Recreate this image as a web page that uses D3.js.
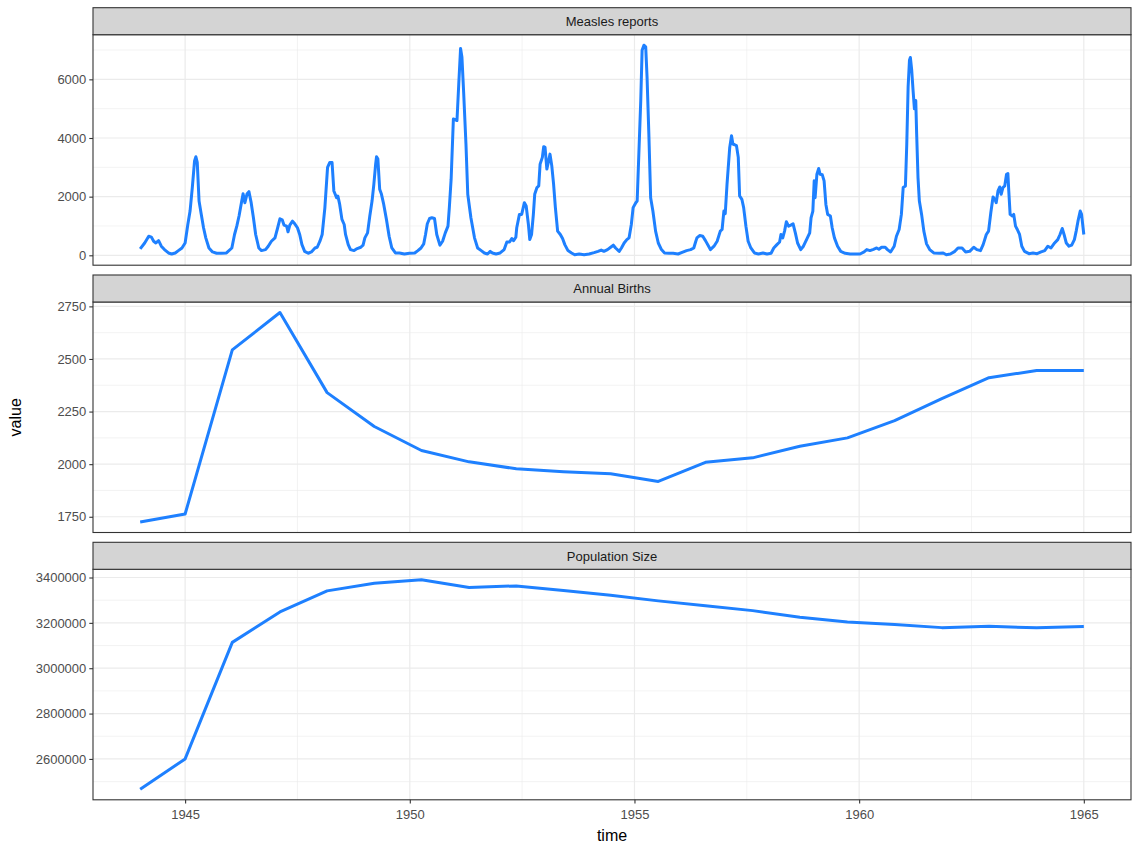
<!DOCTYPE html>
<html>
<head>
<meta charset="utf-8">
<script src="https://cdn.jsdelivr.net/npm/d3@7"></script>
<style>
  body { margin: 0; background: #fff; }
  svg { display: block; font-family: "Liberation Sans", Arial, Helvetica, sans-serif; }
</style>
</head>
<body>
<div id="chart"></div>
<script>
// values

// annual covariates (births, population) share these time points
const annualTime = [1944.00, 1945.00, 1946.05, 1947.11, 1948.16, 1949.21, 1950.26, 1951.32, 1952.37, 1953.42,
  1954.47, 1955.53, 1956.58, 1957.63, 1958.68, 1959.74, 1960.79, 1961.84, 1962.89, 1963.95, 1965.00]
const annualBirths = [1725, 1763, 2543, 2721, 2340, 2179, 2065, 2011, 1978, 1964,
  1954, 1918, 2009, 2030, 2085, 2125, 2207, 2312, 2411, 2445, 2445]
const populationSize = [2466000, 2600000, 3114000, 3248000, 3341000, 3375000, 3390000, 3356000, 3363000, 3343000,
  3322000, 3297000, 3275000, 3254000, 3225000, 3204000, 3193000, 3179000, 3185000, 3178000, 3184000]

// measles case reports [time, reports]
const measlesReports = [
  [1944.00,220],[1944.10,420],[1944.19,650],[1944.25,620],[1944.30,480],[1944.35,420],[1944.41,500],[1944.47,310],[1944.54,195],[1944.63,80],[1944.70,45],[1944.78,80],[1944.85,160],[1944.93,250],
  [1945.00,420],[1945.06,1050],[1945.11,1510],[1945.16,2310],[1945.21,3220],[1945.24,3360],[1945.27,3170],[1945.31,1850],[1945.36,1395],[1945.41,940],[1945.46,595],[1945.53,250],[1945.61,115],[1945.70,70],[1945.81,70],[1945.92,80],
  [1946.04,250],[1946.10,710],[1946.15,995],[1946.20,1340],[1946.26,1850],[1946.29,2100],[1946.33,1795],[1946.38,2100],[1946.42,2170],[1946.47,1795],[1946.52,1280],[1946.57,710],[1946.64,250],[1946.70,160],[1946.79,195],[1946.85,310],[1946.92,480],
  [1947.00,595],[1947.06,940],[1947.11,1245],[1947.16,1210],[1947.20,1030],[1947.26,995],[1947.29,800],[1947.33,1030],[1947.39,1165],[1947.44,1075],[1947.50,940],[1947.55,710],[1947.60,365],[1947.66,135],[1947.74,70],[1947.81,115],[1947.89,250],[1947.94,275],
  [1948.00,480],[1948.05,710],[1948.11,1620],[1948.17,2995],[1948.22,3165],[1948.27,3165],[1948.31,2195],[1948.34,2080],[1948.37,1965],[1948.40,2020],[1948.44,1735],[1948.49,1225],[1948.54,1050],[1948.57,710],[1948.63,365],[1948.68,195],[1948.76,160],[1948.83,230],[1948.91,275],[1948.96,345],
  [1949.00,595],[1949.06,765],[1949.11,1340],[1949.16,1850],[1949.20,2420],[1949.24,3110],[1949.26,3360],[1949.29,3280],[1949.33,2250],[1949.37,2080],[1949.42,1735],[1949.48,1225],[1949.54,650],[1949.60,250],[1949.68,80],[1949.77,80],[1949.88,45],[1949.99,70],
  [1950.11,80],[1950.18,160],[1950.25,250],[1950.31,390],[1950.35,710],[1950.39,1075],[1950.44,1255],[1950.49,1280],[1950.55,1255],[1950.60,710],[1950.67,345],[1950.73,480],[1950.79,765],[1950.85,995],[1950.88,1625],[1950.92,2595],[1950.97,4650],
  [1951.05,4595],[1951.09,5850],[1951.13,7050],[1951.16,6765],[1951.20,5510],[1951.25,3795],[1951.29,2080],[1951.36,1280],[1951.44,595],[1951.51,250],[1951.59,160],[1951.66,80],[1951.73,45],[1951.79,135],[1951.84,80],[1951.92,45],
  [1952.01,80],[1952.10,195],[1952.16,455],[1952.22,455],[1952.27,570],[1952.31,500],[1952.36,615],[1952.38,940],[1952.44,1395],[1952.49,1395],[1952.55,1795],[1952.59,1680],[1952.64,1050],[1952.67,535],[1952.71,710],[1952.75,1395],[1952.78,2080],[1952.83,2310],[1952.87,2365],[1952.90,3110],[1952.95,3340],[1952.98,3705],
  [1953.01,3680],[1953.05,2940],[1953.09,3225],[1953.12,3450],[1953.16,3050],[1953.20,2425],[1953.24,1625],[1953.29,825],[1953.35,710],[1953.40,570],[1953.45,365],[1953.52,160],[1953.60,80],[1953.67,20],[1953.77,45],[1953.88,20],[1953.99,45],
  [1954.10,90],[1954.19,135],[1954.26,180],[1954.32,135],[1954.40,195],[1954.47,275],[1954.53,345],[1954.58,250],[1954.66,135],[1954.71,250],[1954.77,420],[1954.83,535],[1954.88,595],[1954.93,1050],[1954.97,1625],
  [1955.03,1795],[1955.06,1850],[1955.10,3565],[1955.14,5280],[1955.17,6995],[1955.21,7165],[1955.25,7110],[1955.28,6080],[1955.32,4140],[1955.36,1965],[1955.41,1510],[1955.47,825],[1955.53,420],[1955.60,195],[1955.67,80],[1955.77,70],[1955.86,70],[1955.97,45],
  [1956.06,100],[1956.16,160],[1956.25,195],[1956.32,250],[1956.36,455],[1956.39,595],[1956.45,675],[1956.52,650],[1956.58,500],[1956.69,195],[1956.77,310],[1956.84,480],[1956.91,825],[1956.95,880],[1956.99,1510],
  [1957.02,1420],[1957.06,2425],[1957.12,3680],[1957.16,4080],[1957.19,3795],[1957.23,3770],[1957.27,3740],[1957.31,3340],[1957.34,2025],[1957.39,1910],[1957.43,1625],[1957.48,995],[1957.53,480],[1957.59,250],[1957.67,80],[1957.76,45],[1957.86,80],[1957.95,45],
  [1958.04,70],[1958.10,250],[1958.17,365],[1958.23,455],[1958.26,710],[1958.30,595],[1958.34,825],[1958.38,1145],[1958.43,995],[1958.48,1030],[1958.53,1075],[1958.58,765],[1958.63,420],[1958.70,195],[1958.76,310],[1958.84,570],[1958.90,765],[1958.93,1280],[1958.97,1510],
  [1959.00,2540],[1959.02,1965],[1959.06,2765],[1959.10,2960],[1959.13,2765],[1959.18,2745],[1959.22,2540],[1959.26,1735],[1959.30,1395],[1959.36,1340],[1959.40,940],[1959.45,595],[1959.52,310],[1959.59,135],[1959.69,70],[1959.80,45],[1959.91,45],
  [1960.02,45],[1960.11,115],[1960.17,195],[1960.24,160],[1960.32,205],[1960.39,250],[1960.44,205],[1960.50,275],[1960.58,275],[1960.63,195],[1960.70,115],[1960.78,310],[1960.83,650],[1960.89,880],[1960.94,1395],[1960.98,2310],
  [1961.03,2365],[1961.06,3795],[1961.09,5740],[1961.12,6650],[1961.14,6745],[1961.17,6310],[1961.20,5625],[1961.23,4995],[1961.26,5280],[1961.28,4140],[1961.31,2650],[1961.34,1850],[1961.39,1395],[1961.44,825],[1961.50,390],[1961.57,195],[1961.66,80],[1961.78,70],[1961.87,80],[1961.94,20],
  [1962.03,45],[1962.13,135],[1962.20,250],[1962.29,250],[1962.37,115],[1962.46,135],[1962.55,275],[1962.62,195],[1962.70,160],[1962.76,365],[1962.83,710],[1962.88,825],[1962.93,1450],[1962.98,1990],
  [1963.02,1910],[1963.05,1795],[1963.09,2195],[1963.13,2330],[1963.16,2080],[1963.20,2310],[1963.24,2365],[1963.28,2765],[1963.31,2790],[1963.33,2195],[1963.36,1395],[1963.41,1340],[1963.44,1395],[1963.48,995],[1963.52,880],[1963.57,710],[1963.62,310],[1963.68,135],[1963.78,55],[1963.87,80],[1963.96,55],
  [1964.05,115],[1964.13,160],[1964.20,310],[1964.27,250],[1964.35,420],[1964.42,535],[1964.47,710],[1964.52,915],[1964.56,710],[1964.61,420],[1964.67,310],[1964.73,345],[1964.79,535],[1964.83,825],[1964.87,1165],[1964.92,1510],[1964.95,1395],[1965.00,710]
]

const facetLabels = ["Measles reports", "Annual Births", "Population Size"]
const xTicks = [1945, 1950, 1955, 1960, 1965]
const measlesTicks = [0, 2000, 4000, 6000]
const birthTicks = [1750, 2000, 2250, 2500, 2750]
const popTicks = [2600000, 2800000, 3000000, 3200000, 3400000]

const facets = [
  {label: facetLabels[0], data: measlesReports.map(d => ({time: d[0], value: d[1]})), ticks: measlesTicks},
  {label: facetLabels[1], data: annualTime.map((t, i) => ({time: t, value: annualBirths[i]})), ticks: birthTicks},
  {label: facetLabels[2], data: annualTime.map((t, i) => ({time: t, value: populationSize[i]})), ticks: popTicks}
]

const width = 1132, height = 845
const margin = ({top: 7.7, right: 1, left: 93})
const stripH = 27, plotH = 230.5, gap = 9.8
const panelW = width - margin.left - margin.right

const lineColor = "#1E80FF"
const gridColor = "#EBEBEB"
const borderColor = "#333333"
const tickFont = "13px"
const titleFont = "16px"

// ggplot style 5% expansion
function expand(ext){
  const pad = (ext[1] - ext[0]) * 0.05
  return [ext[0] - pad, ext[1] + pad]
}

// midpoints between major breaks, one step beyond each end
function minorBreaks(ticks, domain){
  const step = ticks[1] - ticks[0]
  const b = [ticks[0] - step, ...ticks, ticks[ticks.length - 1] + step]
  return d3.pairs(b).map(p => (p[0] + p[1]) / 2).filter(v => v >= domain[0] && v <= domain[1])
}

const svg = d3.select("#chart").append("svg")
    .attr("width", width)
    .attr("height", height)

const allTimes = facets.flatMap(f => f.data.map(d => d.time))
const xScale = d3.scaleLinear()
    .domain(expand(d3.extent(allTimes)))
    .range([margin.left, margin.left + panelW])

const xMinor = minorBreaks(xTicks, xScale.domain())

facets.forEach((f, i) => {
  const top = margin.top + i * (stripH + plotH + gap)
  const y0 = top + stripH, y1 = y0 + plotH

  const yScale = d3.scaleLinear()
      .domain(expand(d3.extent(f.data, d => d.value)))
      .range([y1, y0])

  const g = svg.append("g").attr("class", "facet")

  g.append("rect")
    .attr("x", margin.left).attr("y", y0)
    .attr("width", panelW).attr("height", plotH)
    .attr("fill", "#fff")

  // minor grid
  const yMinor = minorBreaks(f.ticks, yScale.domain())
  g.selectAll(".hminor").data(yMinor).join("line")
    .attr("x1", margin.left).attr("x2", margin.left + panelW)
    .attr("y1", d => yScale(d)).attr("y2", d => yScale(d))
    .attr("stroke", gridColor).attr("stroke-width", 0.6)
  g.selectAll(".vminor").data(xMinor).join("line")
    .attr("x1", d => xScale(d)).attr("x2", d => xScale(d))
    .attr("y1", y0).attr("y2", y1)
    .attr("stroke", gridColor).attr("stroke-width", 0.6)

  // major grid
  g.selectAll(".hmajor").data(f.ticks).join("line")
    .attr("x1", margin.left).attr("x2", margin.left + panelW)
    .attr("y1", d => yScale(d)).attr("y2", d => yScale(d))
    .attr("stroke", gridColor).attr("stroke-width", 1.2)
  g.selectAll(".vmajor").data(xTicks).join("line")
    .attr("x1", d => xScale(d)).attr("x2", d => xScale(d))
    .attr("y1", y0).attr("y2", y1)
    .attr("stroke", gridColor).attr("stroke-width", 1.2)

  const line = d3.line()
    .x(d => xScale(d.time))
    .y(d => yScale(d.value))

  g.append("path")
    .datum(f.data)
    .attr("fill", "none")
    .attr("stroke", lineColor)
    .attr("stroke-width", 3)
    .attr("stroke-linejoin", "round")
    .attr("d", line)

  g.append("rect")
    .attr("x", margin.left).attr("y", y0)
    .attr("width", panelW).attr("height", plotH)
    .attr("fill", "none")
    .attr("stroke", borderColor).attr("stroke-width", 1.1)

  // strip
  g.append("rect")
    .attr("x", margin.left).attr("y", top)
    .attr("width", panelW).attr("height", stripH)
    .attr("fill", "#D4D4D4")
    .attr("stroke", borderColor).attr("stroke-width", 1.1)
  g.append("text")
    .attr("x", margin.left + panelW / 2)
    .attr("y", top + 18.4)
    .attr("text-anchor", "middle")
    .attr("font-size", tickFont)
    .attr("fill", "#1A1A1A")
    .text(f.label)

  // y axis
  const yAxis = g.append("g")
    .attr("transform", `translate(${margin.left},0)`)
    .call(d3.axisLeft(yScale).tickValues(f.ticks).tickSize(3.7).tickPadding(3).tickFormat(d3.format("d")))
  yAxis.select(".domain").remove()
  yAxis.selectAll(".tick line").attr("stroke", borderColor).attr("stroke-width", 1.1)
  yAxis.selectAll(".tick text")
    .attr("fill", "#4D4D4D")
    .attr("font-size", tickFont)
    .attr("font-family", "Liberation Sans, Arial, sans-serif")

  if (i == facets.length - 1){
    const xAxis = g.append("g")
      .attr("transform", `translate(0,${y1})`)
      .call(d3.axisBottom(xScale).tickValues(xTicks).tickSize(3.7).tickPadding(6).tickFormat(d3.format("d")))
    xAxis.select(".domain").remove()
    xAxis.selectAll(".tick line").attr("stroke", borderColor).attr("stroke-width", 1.1)
    xAxis.selectAll(".tick text")
      .attr("fill", "#4D4D4D")
      .attr("font-size", tickFont)
      .attr("font-family", "Liberation Sans, Arial, sans-serif")

    svg.append("text")
      .attr("x", margin.left + panelW / 2)
      .attr("y", 840.5)
      .attr("text-anchor", "middle")
      .attr("font-size", titleFont)
      .attr("fill", "#000")
      .text("time")
  }
})

const firstPlotTop = margin.top + stripH
const lastPlotBottom = margin.top + 3 * (stripH + plotH) + 2 * gap
svg.append("text")
  .attr("transform", `translate(20.8,${(firstPlotTop + lastPlotBottom) / 2}) rotate(-90)`)
  .attr("text-anchor", "middle")
  .attr("font-size", titleFont)
  .attr("fill", "#000")
  .text("value")
</script>
</body>
</html>
